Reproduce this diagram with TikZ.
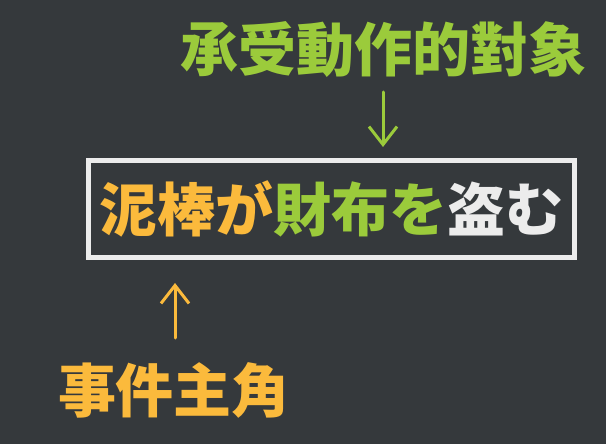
\documentclass[tikz,border=0pt]{standalone}
\usepackage{fontspec}
\usetikzlibrary{arrows.meta}
\newfontfamily\jpfont{Noto Sans CJK JP}
\newfontfamily\tcfont{Noto Sans CJK TC}
\definecolor{board}{HTML}{35393C}
\definecolor{chalkorange}{HTML}{FBBA3C}
\definecolor{chalkgreen}{HTML}{9BCB3B}
\definecolor{chalkwhite}{HTML}{ECECEC}
\tikzset{
  label/.style={inner sep=0pt, font=\tcfont\bfseries\fontsize{58}{60}\selectfont},
  chalkarrow/.style={line width=3pt, line cap=round, -{Straight Barb[length=18pt,width=28pt,line width=3pt]}}
}
\begin{document}
\begin{tikzpicture}[x=1pt,y=-1pt]
\fill[board] (0,0) rectangle (606,444);
\useasboundingbox (0,0) rectangle (606,444);

% sentence
\node[draw=chalkwhite, line width=5pt, minimum width=486pt, minimum height=97pt, inner sep=0pt,
      font=\jpfont\bfseries\fontsize{58}{60}\selectfont] (sentence) at (331.5,209)
  {{\color{chalkorange}泥棒が}{\color{chalkgreen}財布を}{\color{chalkwhite}盗む}};

% labels
\node[label, text=chalkgreen] (object) at (383.5,50) {承受動作的對象};
\node[label, text=chalkorange] (agent) at (174,390) {事件主角};

\coordinate (objtop) at (383,92);
\coordinate (agenttop) at (175,338);
\draw[chalkarrow, chalkgreen] (objtop) -- (objtop |- sentence.north) [shorten >=11pt];
\draw[chalkarrow, chalkorange] (agenttop) -- (agenttop |- sentence.south) [shorten >=23pt];
\end{tikzpicture}
\end{document}
